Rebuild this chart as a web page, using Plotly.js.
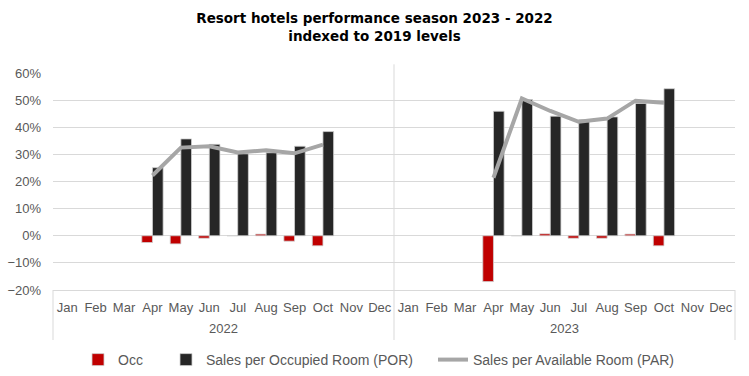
<!DOCTYPE html>
<html>
<head>
<meta charset="utf-8">
<script src="https://cdn.plot.ly/plotly-3.0.1.min.js"></script>
<style>html,body{margin:0;padding:0;background:#fff;}#chart{width:749px;height:376px;}</style>
</head>
<body>
<div id="chart"></div>
<script>
const months = ["Jan","Feb","Mar","Apr","May","Jun","Jul","Aug","Sep","Oct","Nov","Dec"];
const years = ["2022","2023"];
const occ2022 = [null,null,null,-2.5,-3.0,-0.9,0,0.6,-2.0,-3.7,null,null];
const por2022 = [null,null,null,25.1,35.7,33.7,30.2,30.6,33.0,38.4,null,null];
const par2022 = [null,null,null,22.2,32.5,33.0,30.7,31.5,30.4,33.6,null,null];
const occ2023 = [null,null,null,-16.9,0,0.7,-0.9,-0.9,0.6,-3.7,null,null];
const por2023 = [null,null,null,45.9,50.2,44.1,42.8,43.8,48.8,54.2,null,null];
const par2023 = [null,null,null,21.4,50.6,46.0,42.0,43.2,49.8,49.0,null,null];

// category keys (year + month), shown with month tick labels and year group labels
const xKeys = [], xLabels = [];
years.forEach(y => months.forEach(m => { xKeys.push(y + " " + m); xLabels.push(m); }));
const toFrac = a => a.map(v => v === null ? null : v / 100);
const occ = toFrac(occ2022.concat(occ2023));
const por = toFrac(por2022.concat(por2023));
const par = toFrac(par2022.concat(par2023));

const family = "Liberation Sans, Arial, sans-serif";
const font = {family: family, size: 13, color: "#595959"};
const legFont = {family: family, size: 14, color: "#595959"};
const pxX = p => (p - 53) / 682;
const plotH = 217;
const pxY = p => -(p - 290) / plotH;

const data = [
  {type: "bar", name: "Occ", x: xKeys, y: occ, legend: "legend", showlegend: true, marker: {color: "#c00000", line: {color: "#d0d0d0", width: 0.8}}},
  {type: "bar", name: "Sales per Occupied Room (POR)", x: xKeys, y: por, legend: "legend2", showlegend: true, marker: {color: "#262626", line: {color: "#d0d0d0", width: 0.8}}},
  {type: "scatter", mode: "lines", name: "Sales per Available Room (PAR)", x: xKeys, y: par, legend: "legend3", showlegend: true, line: {color: "#a6a6a6", width: 4}, connectgaps: false}
];

const legBase = {orientation: "h", yref: "container", y: 1 - 344 / 376, yanchor: "top", xanchor: "left", font: legFont, bgcolor: "rgba(0,0,0,0)"};

const divider = (xp, top) => ({type: "line", xref: "paper", yref: "paper", x0: xp, x1: xp, y0: pxY(340), y1: top, line: {color: "#d9d9d9", width: 1}});

const layout = {
  width: 749, height: 376,
  showlegend: true,
  margin: {l: 53, r: 14, t: 73, b: 86},
  paper_bgcolor: "#fff", plot_bgcolor: "#fff",
  font: font,
  title: {text: "<b>Resort hotels performance season 2023 - 2022<br>indexed to 2019 levels</b>", x: 0.5, xanchor: "center", y: 0.938, yanchor: "top", font: {family: "DejaVu Sans, Verdana, sans-serif", size: 13.5, color: "#000"}},
  barmode: "group", bargap: 0.25, bargroupgap: 0,
  xaxis: {type: "category", automargin: false, showgrid: false, showline: true, linecolor: "#d9d9d9", linewidth: 1, tickangle: 0,
          tickmode: "array", tickvals: xKeys, ticktext: xLabels, ticks: "", tickfont: font, zeroline: false, ticklabelstandoff: 5},
  yaxis: {automargin: false, range: [-0.2, 0.6], dtick: 0.1, tickformat: ".0%", showgrid: true, gridcolor: "#d9d9d9", gridwidth: 1,
          zeroline: true, zerolinecolor: "#d9d9d9", zerolinewidth: 1, showline: false, ticks: "", tickfont: font, ticklabelstandoff: 11},
  legend: Object.assign({}, legBase, {x: pxX(118 - 40)}),
  legend2: Object.assign({}, legBase, {x: pxX(206 - 40)}),
  legend3: Object.assign({}, legBase, {x: pxX(474 - 41)}),
  annotations: years.map((y, i) => ({text: y, xref: "paper", yref: "paper", x: 0.25 + 0.5 * i, y: pxY(328), xanchor: "center", yanchor: "middle", showarrow: false, font: font})),
  shapes: [divider(0, 0), divider(0.5, 1.04), divider(1, 0)]
};

Plotly.newPlot("chart", data, layout, {displayModeBar: false, staticPlot: true});
</script>
</body>
</html>
